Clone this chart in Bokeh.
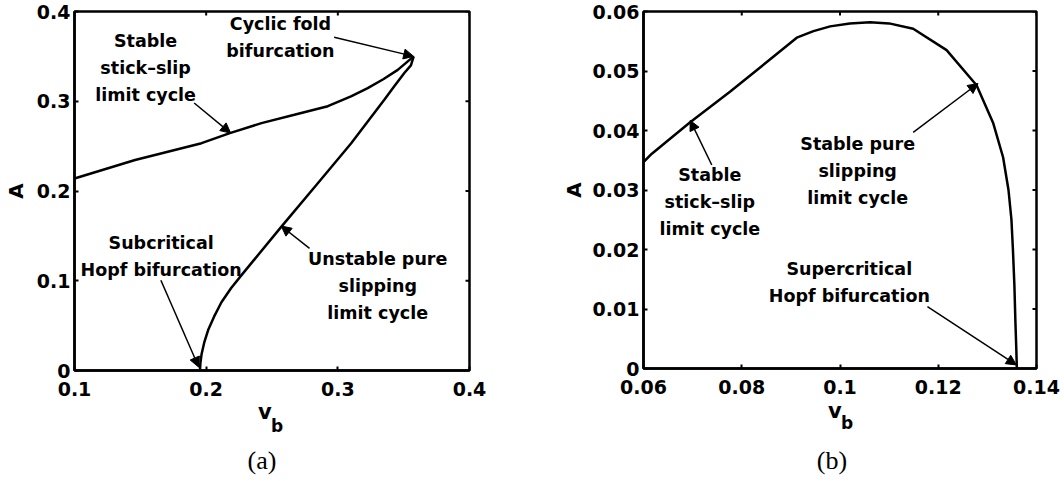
import math
from bokeh.plotting import figure
from bokeh.layouts import row, column
from bokeh.models import Arrow, NormalHead, FixedTicker, Range1d, ColumnDataSource, Div
from bokeh.core.properties import value
from bokeh.embed import file_html
from bokeh.resources import INLINE

# ---------------- Panel (a) data ----------------
vb_a_stable = [0.1, 0.146, 0.1965, 0.218, 0.242, 0.267, 0.2924, 0.310, 0.3227, 0.3345, 0.3455, 0.3576]
A_a_stable = [0.214, 0.2346, 0.2533, 0.2645, 0.2756, 0.2849, 0.2945, 0.3054, 0.3147, 0.3245, 0.335, 0.350]
vb_a_unstable = [0.3576, 0.3555, 0.3505, 0.3430, 0.3353, 0.310, 0.2848, 0.257, 0.2267, 0.219,
                 0.2116, 0.206, 0.2015, 0.1985, 0.1965, 0.1956, 0.1953]
A_a_unstable = [0.350, 0.340, 0.3315, 0.3170, 0.3017, 0.253, 0.2086, 0.160, 0.106, 0.092,
                0.076, 0.060, 0.045, 0.031, 0.018, 0.008, 0.0]
xticks_a = [0.1, 0.2, 0.3, 0.4]
xtick_labels_a = ["0.1", "0.2", "0.3", "0.4"]
yticks_a = [0.0, 0.1, 0.2, 0.3, 0.4]
ytick_labels_a = ["0", "0.1", "0.2", "0.3", "0.4"]
notes_a = ["Cyclic fold\nbifurcation", "Stable\nstick\u2013slip\nlimit cycle",
           "Subcritical\nHopf bifurcation", "Unstable pure\nslipping\nlimit cycle"]
notes_a_x = [0.2564, 0.154, 0.1658, 0.3303]
notes_a_y = [0.3709, 0.3369, 0.1268, 0.0939]
arrows_a_x0 = [0.2972, 0.1909, 0.1656, 0.2785]
arrows_a_y0 = [0.3713, 0.298, 0.1006, 0.136]
arrows_a_x1 = [0.3576, 0.2186, 0.1944, 0.2570]
arrows_a_y1 = [0.350, 0.2645, 0.0037, 0.161]

# ---------------- Panel (b) data ----------------
vb_b = [0.06, 0.0617, 0.0695, 0.0776, 0.0851, 0.0912, 0.0946, 0.0980, 0.1020, 0.1061,
        0.110, 0.1149, 0.1217, 0.1278, 0.1312, 0.1332, 0.1343, 0.1349, 0.1352, 0.1355,
        0.1357, 0.1359, 0.1360]
A_b = [0.0347, 0.0361, 0.0414, 0.0465, 0.0515, 0.0556, 0.0567, 0.0575, 0.0580, 0.0582,
       0.0580, 0.0571, 0.0535, 0.0476, 0.0412, 0.0355, 0.0300, 0.0250, 0.0200, 0.0140,
       0.0080, 0.0030, 0.0]
xticks_b = [0.06, 0.08, 0.1, 0.12, 0.14]
xtick_labels_b = ["0.06", "0.08", "0.1", "0.12", "0.14"]
yticks_b = [0.0, 0.01, 0.02, 0.03, 0.04, 0.05, 0.06]
ytick_labels_b = ["0", "0.01", "0.02", "0.03", "0.04", "0.05", "0.06"]
notes_b = ["Stable\nstick\u2013slip\nlimit cycle", "Stable pure\nslipping\nlimit cycle",
           "Supercritical\nHopf bifurcation"]
notes_b_x = [0.0735, 0.1036, 0.1019]
notes_b_y = [0.0279, 0.0332, 0.0145]
arrows_b_x0 = [0.0739, 0.1149, 0.1178]
arrows_b_y0 = [0.0342, 0.0397, 0.0104]
arrows_b_x1 = [0.0695, 0.1281, 0.1359]
arrows_b_y1 = [0.0417, 0.0479, 0.0006]

FONT = "DejaVu Sans"


def make_panel(xr, yr, xticks, xlabels, yticks, ylabels, width, left, right, bottom, a_standoff):
    p = figure(width=width, height=400, x_range=Range1d(*xr), y_range=Range1d(*yr),
               output_backend="svg", toolbar_location=None,
               min_border_left=left, min_border_right=right,
               min_border_top=11, min_border_bottom=bottom)
    p.grid.visible = False
    p.background_fill_color = "white"
    p.border_fill_color = "white"
    p.outline_line_color = "black"
    p.outline_line_width = 2.5
    p.outline_line_alpha = 1.0
    p.xaxis.ticker = FixedTicker(ticks=xticks)
    p.yaxis.ticker = FixedTicker(ticks=yticks)
    p.xaxis.major_label_overrides = {t: s for t, s in zip(xticks, xlabels)}
    p.yaxis.major_label_overrides = {t: s for t, s in zip(yticks, ylabels)}
    for ax in (p.xaxis, p.yaxis):
        ax.major_label_text_font = FONT
        ax.major_label_text_font_style = "bold"
        ax.major_label_text_font_size = "19px"
        ax.major_label_text_color = "black"
        ax.major_tick_in = 4
        ax.major_tick_out = 0
        ax.major_tick_line_width = 2
        ax.minor_tick_line_color = None
        ax.axis_line_width = 2.5
        ax.axis_line_color = "black"
    p.xaxis.major_label_standoff = 11
    p.yaxis.major_label_standoff = 4
    p.yaxis.axis_label = "A"
    p.yaxis.axis_label_text_font = FONT
    p.yaxis.axis_label_text_font_style = "bold"
    p.yaxis.axis_label_text_font_size = "20px"
    p.yaxis.axis_label_text_color = "black"
    p.yaxis.axis_label_standoff = a_standoff
    # inward ticks on the top and right edges of the box (outer halves are clipped)
    p.scatter(x=xticks, y=[yr[1]] * len(xticks), marker="dash", angle=math.pi / 2,
              size=8, line_width=2, line_color="black")
    p.scatter(x=[xr[1]] * len(yticks), y=yticks, marker="dash", angle=0,
              size=8, line_width=2, line_color="black")
    return p


def add_notes(p, xs, ys, texts, x0, y0, x1, y1):
    p.text(x=xs, y=ys, text=texts, text_font=value(FONT), text_font_style="bold",
           text_font_size="17.5px", text_align="center", text_baseline="middle",
           text_line_height=1.35, text_color="black")
    src = ColumnDataSource(dict(x0=x0, y0=y0, x1=x1, y1=y1))
    p.add_layout(Arrow(end=NormalHead(size=10, fill_color="black", line_color="black",
                                      line_width=1),
                       x_start="x0", y_start="y0", x_end="x1", y_end="y1",
                       line_width=1.5, line_color="black", source=src))


def caption_div(width, v_left, v_top, b_left, b_top, cap_center, cap_top, cap):
    html = (
        f'<div style="position:relative;width:{width}px;height:81px;margin:0;padding:0;">'
        f'<span style="position:absolute;left:{v_left}px;top:{v_top}px;font-family:\'DejaVu Sans\';'
        f'font-weight:bold;font-size:21px;line-height:1;color:black;">v</span>'
        f'<span style="position:absolute;left:{b_left}px;top:{b_top}px;font-family:\'DejaVu Sans\';'
        f'font-weight:bold;font-size:17px;line-height:1;color:black;">b</span>'
        f'<span style="position:absolute;left:{cap_center}px;top:{cap_top}px;'
        f'transform:translateX(-50%);font-family:\'Liberation Serif\';font-size:26px;'
        f'line-height:1;color:black;white-space:nowrap;">{cap}</span>'
        '</div>'
    )
    return Div(text=html, width=width, height=81, margin=(0, 0, 0, 0))


# Panel (a)
pa = make_panel((0.1, 0.4), (0.0, 0.4), xticks_a, xtick_labels_a, yticks_a, ytick_labels_a,
                width=556, left=73, right=87, bottom=30, a_standoff=6)
pa.line(vb_a_stable, A_a_stable, line_width=2.5, line_color="black")
pa.line(vb_a_unstable, A_a_unstable, line_width=2.5, line_color="black")
add_notes(pa, notes_a_x, notes_a_y, notes_a, arrows_a_x0, arrows_a_y0, arrows_a_x1, arrows_a_y1)
da = caption_div(556, 258, 2, 271, 18, 262, 48, "(a)")

# Panel (b)
pb = make_panel((0.06, 0.14), (0.0, 0.06), xticks_b, xtick_labels_b, yticks_b, ytick_labels_b,
                width=508, left=87, right=28, bottom=32, a_standoff=4)
pb.line(vb_b, A_b, line_width=2.5, line_color="black")
add_notes(pb, notes_b_x, notes_b_y, notes_b, arrows_b_x0, arrows_b_y0, arrows_b_x1, arrows_b_y1)
db = caption_div(508, 272, 1, 285, 15, 276, 48, "(b)")

layout = row(column(pa, da, spacing=0), column(pb, db, spacing=0), spacing=0)
open("out.html", "w").write(file_html(layout, INLINE))
